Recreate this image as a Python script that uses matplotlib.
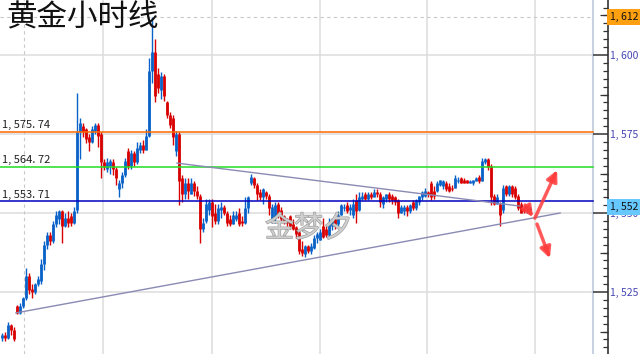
import matplotlib
matplotlib.use("Agg")
import matplotlib.pyplot as plt
import matplotlib.patheffects as pe
from matplotlib.ticker import MultipleLocator, FuncFormatter

plt.rcParams['font.family'] = ['Noto Sans CJK SC', 'DejaVu Sans']

# hourly gold bars (open, high, low, close)
opens = [1510.5, 1511.5, 1510.5, 1514.5, 1513, 1520.5, 1518.5, 1520.5, 1523, 1530,
         1526, 1525, 1527.5, 1528.5, 1534, 1540, 1543, 1541, 1546.5, 1548,
         1550.5, 1546, 1548.5, 1549, 1547, 1551, 1575.5, 1577.5, 1576.5, 1574,
         1572.5, 1576, 1578, 1575, 1566, 1564, 1565, 1566, 1564, 1557.5,
         1559.5, 1562, 1569.5, 1565, 1569, 1566, 1570, 1571.5, 1570, 1574.5,
         1595, 1601, 1594, 1589, 1593.5, 1585, 1581, 1580, 1569.5, 1575,
         1561, 1556, 1559.5, 1556, 1559.5, 1557, 1555.5, 1545, 1547.5, 1551,
         1553.5, 1550, 1547.5, 1551, 1552, 1550, 1548, 1546.5, 1548, 1550,
         1547.5, 1547, 1551.5, 1559.5, 1561, 1559, 1556.5, 1555, 1556.5, 1555.5,
         1548, 1548.5, 1553, 1551, 1549, 1547.5, 1549, 1546.5, 1545.5, 1544,
         1538.5, 1537, 1539.5, 1538, 1539, 1542, 1541.5, 1546, 1545, 1543,
         1546, 1548, 1546.5, 1549.5, 1551.5, 1552.5, 1551, 1549.5, 1554, 1551,
         1554.5, 1556, 1554.5, 1556, 1555, 1556.5, 1556, 1553, 1554.5, 1556,
         1555.5, 1555, 1554, 1550, 1550.5, 1552, 1550.5, 1553.5, 1551.5, 1553.5,
         1555, 1555.5, 1556.5, 1559.5, 1557, 1557, 1559, 1558.5, 1559.5, 1558.5,
         1558, 1558, 1560, 1561, 1560.5, 1560.5, 1559.5, 1559.5, 1560, 1561.5,
         1560, 1566, 1567, 1565, 1555.5, 1553, 1553, 1551, 1558.5, 1556,
         1558.5, 1558, 1555.5, 1553, 1551.5, 1550.5, 1551]
highs = [1512, 1512.5, 1515.5, 1515, 1514, 1521, 1521.5, 1523.5, 1532.5, 1531,
         1527.5, 1528, 1530, 1535.5, 1541, 1544, 1544, 1547.5, 1550.5, 1551,
         1551, 1550, 1550.5, 1550, 1552, 1588, 1580, 1578.5, 1577, 1575,
         1577.5, 1578.5, 1578.5, 1575.5, 1567, 1567.5, 1567, 1567, 1564.5, 1560.5,
         1563, 1567.5, 1570.5, 1570, 1569.5, 1572.5, 1572.5, 1573, 1576.5, 1599,
         1612, 1605, 1596, 1594.5, 1594, 1585.5, 1582, 1581, 1576, 1575.5,
         1562, 1561, 1561, 1561, 1560, 1558.5, 1556, 1548.5, 1554.5, 1554.5,
         1554.5, 1553, 1553, 1553.5, 1552.5, 1550.5, 1549.5, 1550.5, 1550.5, 1551.5,
         1549, 1555, 1555.5, 1562.5, 1561.5, 1559.5, 1557.5, 1558, 1557, 1556,
         1553, 1553.5, 1553.5, 1552, 1549.5, 1548.5, 1549.5, 1548, 1546, 1544.5,
         1541, 1540, 1540, 1540.5, 1543, 1544, 1545, 1548.5, 1546, 1548.5,
         1548.5, 1549, 1550.5, 1553, 1553, 1553.5, 1553, 1554.5, 1556, 1556.5,
         1556.5, 1556.5, 1556.5, 1556.5, 1557.5, 1557.5, 1556.5, 1555.5, 1556, 1556.5,
         1556, 1555.5, 1554.5, 1552.5, 1552.5, 1552.5, 1553, 1554, 1554.5, 1555.5,
         1557, 1558, 1557, 1560, 1558.5, 1560, 1560.5, 1560.5, 1560, 1559.5,
         1559, 1562, 1561.5, 1561.5, 1561, 1560.5, 1560.5, 1560.5, 1561.5, 1562,
         1567.5, 1567.5, 1567.5, 1565.5, 1556, 1556, 1553.5, 1559, 1559, 1559,
         1559, 1558.5, 1556, 1553.5, 1552, 1552, 1552]
lows = [1509.5, 1509.5, 1510, 1511.5, 1509.5, 1518, 1518, 1520, 1522.5, 1524.5,
        1523, 1524.5, 1527, 1527.5, 1532, 1538.5, 1540, 1540.5, 1545.5, 1546.5,
        1540.5, 1545.5, 1545.5, 1546, 1546.5, 1550, 1567, 1574, 1572, 1569.5,
        1572, 1575, 1571, 1561, 1563.5, 1563, 1562.5, 1562, 1559, 1555,
        1558, 1561.5, 1564, 1564, 1565, 1565.5, 1569, 1569, 1570, 1574,
        1591, 1585, 1588, 1586, 1585.5, 1580, 1577, 1571.5, 1568, 1552.5,
        1553.5, 1554.5, 1554.5, 1556, 1555.5, 1554.5, 1540.5, 1544, 1547, 1549.5,
        1545.5, 1546.5, 1546.5, 1548.5, 1549.5, 1546, 1546, 1546.5, 1547.5, 1546,
        1546, 1546.5, 1550, 1559, 1558, 1554, 1554, 1553, 1554.5, 1549.5,
        1547, 1547, 1548.5, 1547.5, 1546.5, 1546, 1545, 1544.5, 1542, 1537,
        1536.5, 1536, 1537.5, 1537, 1538.5, 1540.5, 1541.5, 1542, 1542.5, 1542.5,
        1544.5, 1545, 1546, 1549.5, 1550.5, 1550, 1549.5, 1548.5, 1547, 1550.5,
        1554, 1554, 1554, 1554.5, 1555, 1555, 1552, 1551.5, 1553.5, 1553.5,
        1553, 1552.5, 1548.5, 1550, 1549.5, 1549, 1550, 1551, 1551, 1552.5,
        1554, 1555, 1555, 1554, 1554.5, 1556.5, 1558.5, 1557.5, 1557, 1556.5,
        1557, 1558, 1559.5, 1559.5, 1559.5, 1559.5, 1559.5, 1559, 1560, 1559.5,
        1560, 1565.5, 1563.5, 1552.5, 1552.5, 1553, 1546, 1550, 1555.5, 1555.5,
        1555, 1554.5, 1551, 1550, 1550, 1550, 1550.5]
closes = [1511.5, 1510.5, 1514.5, 1513, 1510, 1518.5, 1520.5, 1523, 1530, 1525.5,
          1525, 1527.5, 1529, 1534, 1540, 1543, 1541, 1546.5, 1549.5, 1550.5,
          1546, 1548.5, 1547, 1547, 1550.5, 1575.5, 1578.5, 1575.5, 1573.5, 1572.5,
          1576.5, 1578, 1574.5, 1566, 1564.5, 1566, 1566.5, 1564, 1561, 1559.5,
          1562, 1566.5, 1565, 1569, 1566, 1570.5, 1571.5, 1570, 1574.5, 1595,
          1601, 1587, 1589.5, 1593.5, 1587, 1581, 1578, 1574, 1575, 1560,
          1556, 1559.5, 1557, 1559.5, 1557, 1555.5, 1545, 1547, 1553, 1553.5,
          1549, 1547.5, 1551.5, 1552, 1550, 1547, 1546.5, 1549.5, 1549.5, 1546.5,
          1547, 1551.5, 1555, 1561.5, 1559, 1556, 1555, 1557.5, 1555.5, 1551.5,
          1552, 1552.5, 1549.5, 1548, 1547.5, 1547, 1546, 1545, 1543.5, 1538,
          1537.5, 1539.5, 1538, 1539.5, 1542, 1543.5, 1544, 1542.5, 1543, 1547,
          1548, 1546, 1549.5, 1552.5, 1552, 1550.5, 1552, 1553, 1550.5, 1555,
          1555.5, 1554.5, 1556, 1555, 1556.5, 1556, 1553.5, 1555, 1556, 1554.5,
          1554, 1553.5, 1550, 1552, 1552, 1550.5, 1552.5, 1551.5, 1554, 1555.5,
          1556.5, 1557, 1556, 1555, 1555.5, 1559.5, 1560.5, 1560, 1557.5, 1557,
          1557.5, 1561, 1560.5, 1559.5, 1559.5, 1559.5, 1560, 1560.5, 1561, 1560,
          1566.5, 1567, 1564.5, 1555, 1553, 1555, 1549.5, 1558, 1556, 1558.5,
          1556, 1555, 1551.5, 1550, 1550.5, 1551.5, 1551.5]

levels = [1575.74, 1564.72, 1553.71]
level_labels = ["1, 575. 74", "1, 564. 72", "1, 553. 71"]
level_colors = ["#ff6a00", "#22dd22", "#0000c0"]

upper_x, upper_y = [59, 173.3], [1565.8, 1552.2]
lower_x, lower_y = [5.3, 186.7], [1518.4, 1550.0]
vgrid = [34.3, 70.7, 106.7, 142.3, 178.3]
hgrid = [1600, 1575, 1550, 1525]
mid_ticks = [1512.5, 1537.5, 1562.5, 1587.5, 1612.5]
cross_x, cross_y = 8, 1612
last_price = 1552
arrows = [((175, 1552.5), (177.7, 1548.7)),
          ((178.3, 1548.4), (185.7, 1563.6)),
          ((179.0, 1546.5), (183.3, 1535.7))]

fig = plt.figure(figsize=(6.4, 3.54), dpi=100)
ax = fig.add_axes([0, 0, 608 / 640, 1])
ax.set_xlim(0, 608 / 3)
ax.set_ylim(1505.4, 1617.4)
plot_edge = 593 / 608

# grid
for g in hgrid:
    ax.axhline(g, xmax=plot_edge, color="#dcdcdc", lw=1.1, zorder=0)
for g in vgrid:
    ax.axvline(g, color="#dcdcdc", lw=1.1, zorder=0)
ax.axvline(cross_x, color="#c8c8c8", lw=0.8, ls=(0, (3, 3)), zorder=0)
ax.axhline(cross_y, xmax=plot_edge, color="#c8c8c8", lw=0.8, ls=(0, (3, 3)), zorder=0)
ax.axvline(593 / 3, color="#c8d2e0", lw=1.5, zorder=1)

# bars
xs = [i + 0.5 for i in range(len(closes))]
cols = ["#0a62c8" if c >= o else "#d80000" for o, c in zip(opens, closes)]
ax.vlines(xs, [min(l, o, c) for l, o, c in zip(lows, opens, closes)],
          [max(h, o, c) for h, o, c in zip(highs, opens, closes)],
          colors=cols, lw=1.0, zorder=2)
ax.vlines(xs, opens, closes, colors=cols, lw=2.0, zorder=2)

# level lines + labels
for lv, lab, col in zip(levels, level_labels, level_colors):
    ax.axhline(lv, xmax=plot_edge, color=col, lw=1.1, zorder=3)
    ax.text(0.004, lv + 0.4, lab, transform=ax.get_yaxis_transform(),
            fontsize=8, color="#202020", va="bottom", ha="left", zorder=5)

# triangle
ax.plot(upper_x, upper_y, color="#8a8ab4", lw=1.0, zorder=4)
ax.plot(lower_x, lower_y, color="#8a8ab4", lw=1.0, zorder=4)

for start, end in arrows:
    ax.annotate("", xy=end, xytext=start,
                arrowprops=dict(arrowstyle="-|>", color="#ff3c3c", lw=2.5,
                                mutation_scale=16, alpha=0.85, shrinkA=0, shrinkB=0),
                zorder=6)

# watermark and title
ax.text(88.3, 1545.0, "金梦夕", fontsize=21, color="#d0d0d0", alpha=0.85,
        va="center", ha="left", zorder=5,
        path_effects=[pe.withStroke(linewidth=0.8, foreground="#8c8c8c")])
ax.text(6 / 608, 1 - 1 / 354, "黄金小时线", transform=ax.transAxes, fontsize=22,
        color="#111111", va="top", ha="left", zorder=6)

# price scale
for s in ["top", "left", "bottom"]:
    ax.spines[s].set_visible(False)
ax.spines["right"].set_color("#333333")
ax.spines["right"].set_linewidth(1.2)
ax.set_xticks([])
ax.yaxis.tick_right()
ax.yaxis.set_major_locator(MultipleLocator(25))
ax.yaxis.set_minor_locator(MultipleLocator(2.5))
ax.yaxis.set_major_formatter(FuncFormatter(lambda v, p: f"{v:,.0f}".replace(",", ", ")))
ax.tick_params(axis="y", which="major", direction="in", length=10.8, width=1.1,
               color="#333333", labelsize=7.5, labelcolor="#4646b4", pad=1.5)
ax.tick_params(axis="y", which="minor", direction="in", length=3.6, width=0.9,
               color="#333333")
ax.hlines(mid_ticks, 1 - 8 / 608, 1, transform=ax.get_yaxis_transform(),
          color="#333333", lw=0.9, clip_on=False)

for val, bg in [(cross_y, "#ffa010"), (last_price, "#66c8ff")]:
    ax.text(1.004, val, f"{val:,.0f}".replace(",", ", "), transform=ax.get_yaxis_transform(),
            fontsize=7.5, color="#111111", va="center", ha="left", zorder=7, clip_on=False,
            bbox=dict(boxstyle="square,pad=0.3", facecolor=bg, edgecolor="none"))

fig.savefig("out.png", dpi=100, facecolor="white")
